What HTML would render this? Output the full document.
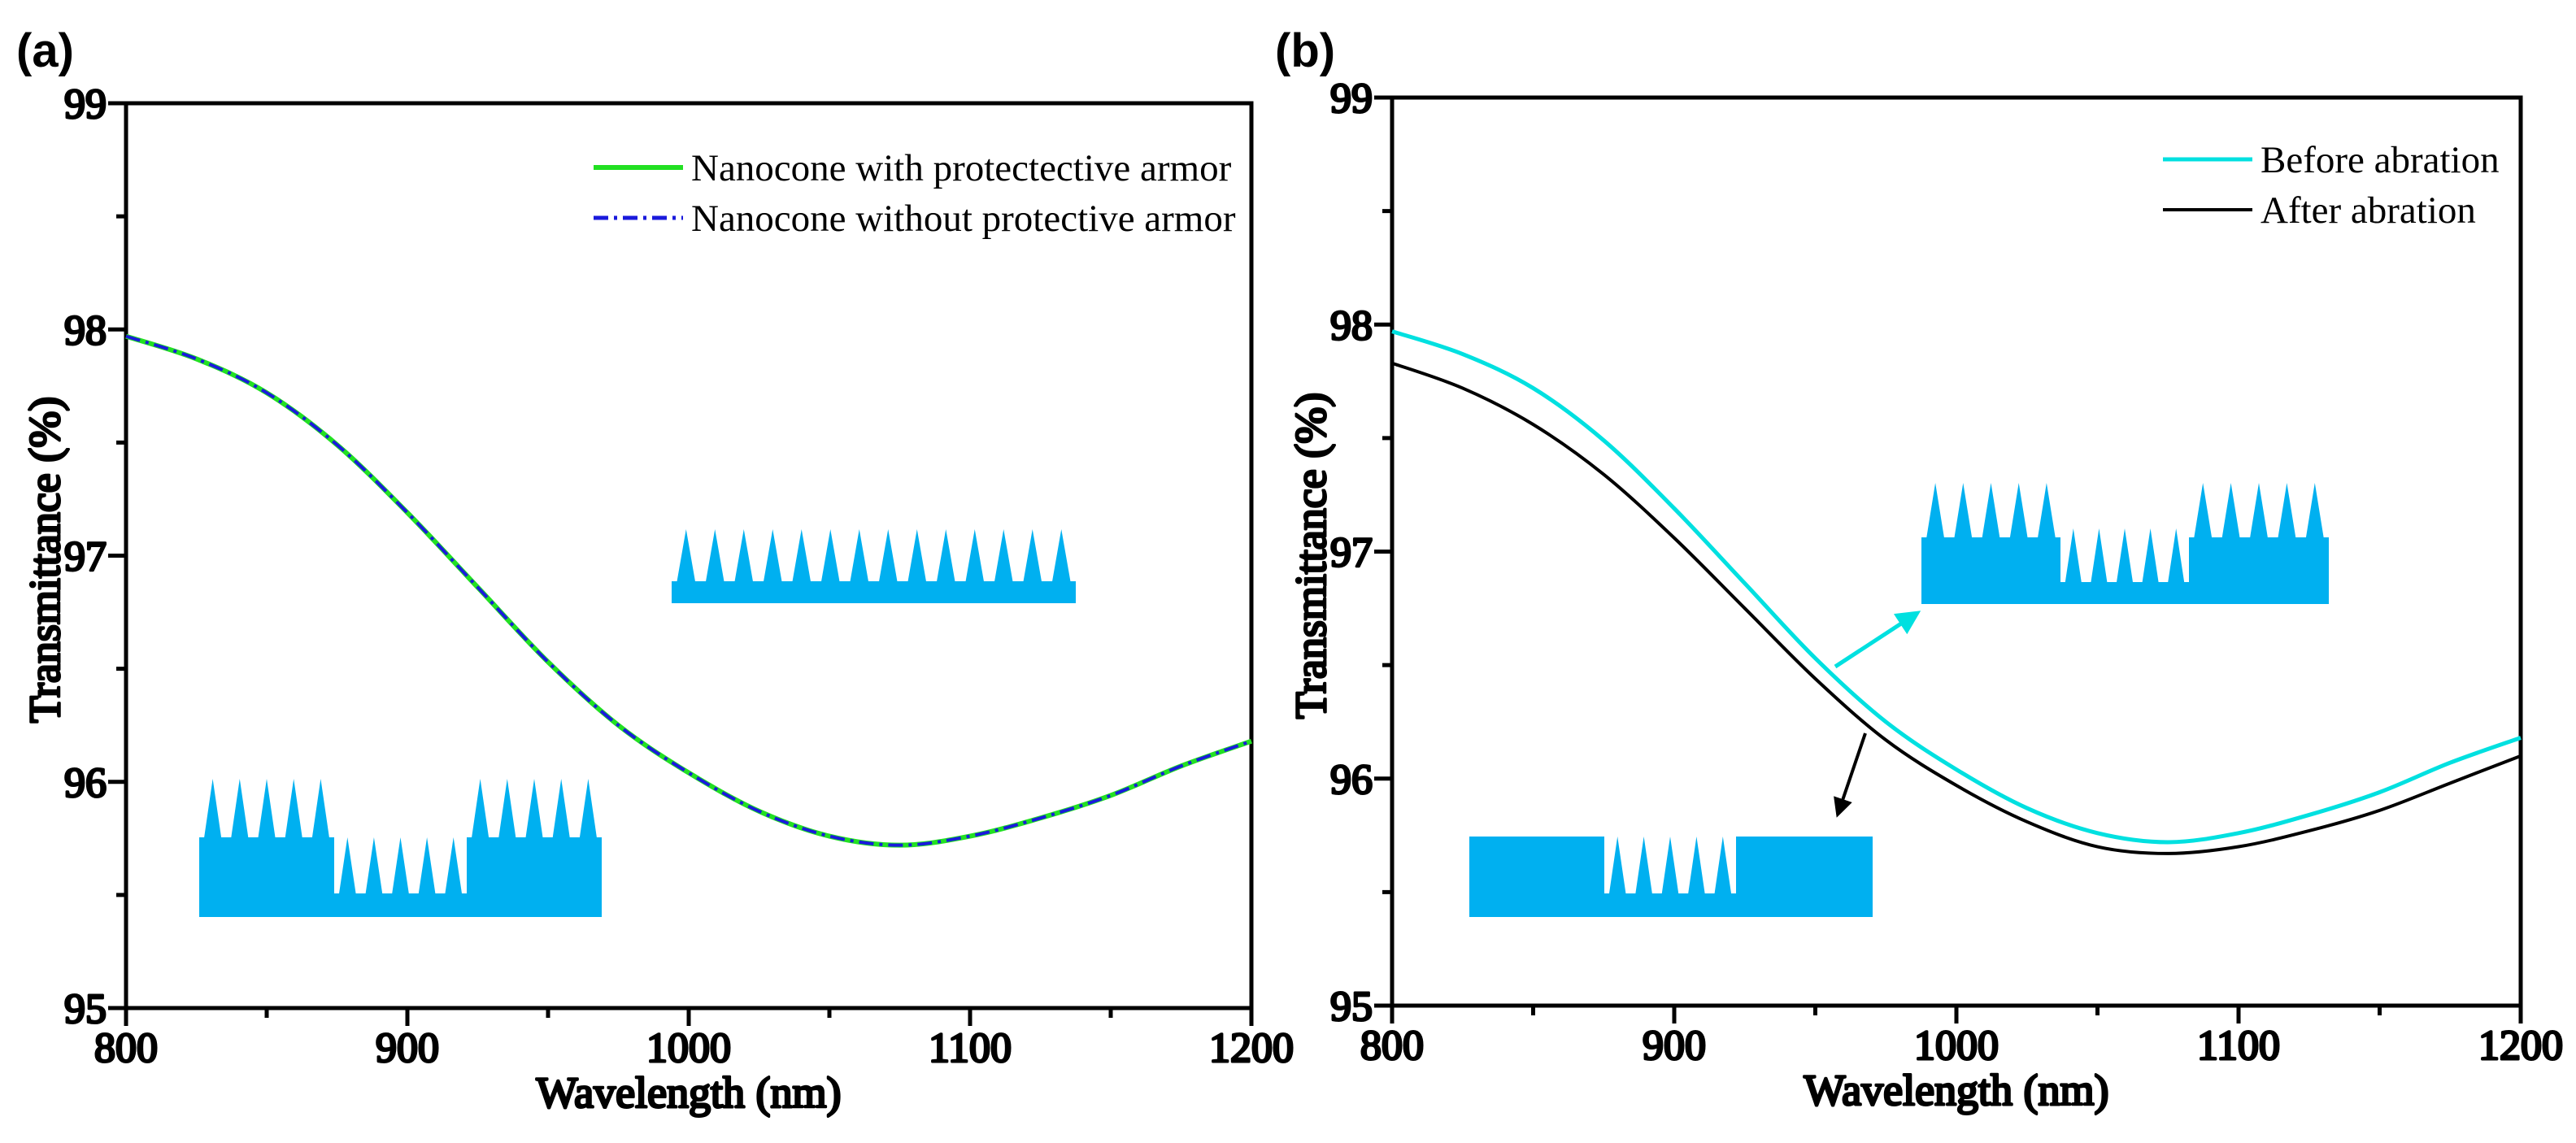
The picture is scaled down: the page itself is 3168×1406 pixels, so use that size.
<!DOCTYPE html>
<html><head><meta charset="utf-8"><style>
html,body{margin:0;padding:0;background:#fff;}
svg{display:block;}
.tick{font-family:"Liberation Serif",serif;font-weight:normal;font-size:52px;}
.ttl{font-family:"Liberation Serif",serif;font-weight:normal;font-size:54px;}
.leg{font-family:"Liberation Serif",serif;font-size:47px;}
.pl{font-family:"Liberation Sans",sans-serif;font-weight:bold;font-size:58px;}
</style></head><body>
<svg id="fig" width="3168" height="1406" viewBox="0 0 3168 1406" xmlns="http://www.w3.org/2000/svg">
<text class="pl" x="20" y="82">(a)</text>
<text class="pl" x="1568" y="82">(b)</text>
<g id="pa"></g>
<g id="pb"></g>
</svg>
<script>
const wavelengths=[800,825,850,875,900,925,950,975,1000,1025,1050,1075,1100,1125,1150,1175,1200];
const withArmor=[97.97,97.87,97.72,97.49,97.19,96.86,96.53,96.25,96.04,95.87,95.76,95.72,95.76,95.84,95.94,96.07,96.18];
const withoutArmor=[97.97,97.87,97.72,97.49,97.19,96.86,96.53,96.25,96.04,95.87,95.76,95.72,95.76,95.84,95.94,96.07,96.18];
const beforeAbr=[97.97,97.87,97.72,97.49,97.19,96.86,96.53,96.25,96.04,95.87,95.76,95.72,95.76,95.84,95.94,96.07,96.18];
const afterAbr=[97.83,97.72,97.56,97.34,97.06,96.75,96.44,96.17,95.97,95.81,95.70,95.67,95.70,95.77,95.86,95.98,96.10];
const xTicks=[800,900,1000,1100,1200];
const yTicks=[95,96,97,98,99];
const NS="http://www.w3.org/2000/svg";
function mk(parent,tag,attrs,txt){const e=document.createElementNS(NS,tag);for(const k in attrs)e.setAttribute(k,attrs[k]);if(txt!==undefined)e.textContent=txt;parent.appendChild(e);return e;}
function smooth(pts){let d=`M${pts[0][0]},${pts[0][1]}`;for(let i=0;i<pts.length-1;i++){const p0=pts[Math.max(0,i-1)],p1=pts[i],p2=pts[i+1],p3=pts[Math.min(pts.length-1,i+2)];const c1=[p1[0]+(p2[0]-p0[0])/6,p1[1]+(p2[1]-p0[1])/6],c2=[p2[0]-(p3[0]-p1[0])/6,p2[1]-(p3[1]-p1[1])/6];d+=`C${c1[0]},${c1[1]} ${c2[0]},${c2[1]} ${p2[0]},${p2[1]}`;}return d;}
const B0={fill:'#000',stroke:'#000','stroke-width':3,'stroke-linejoin':'round'};
function axes(g,L,R,T,B){
  const sx=v=>L+(v-800)/400*(R-L), sy=v=>B-(v-95)/4*(B-T);
  const fr=mk(g,'rect',{x:L,y:T,width:R-L,height:B-T,fill:'none',stroke:'#000','stroke-width':5});
  
  for(let v=800;v<=1200;v+=50){const maj=v%100===0;mk(g,'line',{x1:sx(v),x2:sx(v),y1:B,y2:B+(maj?22:12),stroke:'#000','stroke-width':5});}
  for(let v=95;v<=99;v+=0.5){const maj=v%1===0;mk(g,'line',{x1:L,x2:L-(maj?22:12),y1:sy(v),y2:sy(v),stroke:'#000','stroke-width':5});}
  xTicks.forEach(v=>{const t=mk(g,'text',Object.assign({class:'tick',x:sx(v),y:B+66,'text-anchor':'middle'},B0),v);});
  yTicks.forEach(v=>{const t=mk(g,'text',Object.assign({class:'tick',x:L-24,y:sy(v)+18,'text-anchor':'end'},B0),v);});
  const xt=mk(g,'text',Object.assign({class:'ttl',x:(L+R)/2,y:B+122,'text-anchor':'middle'},B0),'Wavelength (nm)');
  
  const cy=(T+B)/2+5, yx=L-82;
  const yt=mk(g,'text',Object.assign({class:'ttl',x:yx,y:cy,'text-anchor':'middle',transform:`rotate(-90 ${yx} ${cy})`},B0),'Transmittance (%)');
  
  return {sx,sy};
}
function series(g,s,vals,attrs,name){const pts=wavelengths.map((w,i)=>[s.sx(w),s.sy(vals[i])]);const p=mk(g,'path',Object.assign({d:smooth(pts),fill:'none'},attrs));}
const C='#00B0F0';
function spikes(g,x0,x1,n,base,tip){const w=(x1-x0)/n;for(let i=0;i<n;i++){const cx=x0+w*(i+0.5);mk(g,'polygon',{points:`${cx-w*0.32},${base} ${cx},${tip} ${cx+w*0.32},${base}`,fill:C});}}
// Panel A
const ga=document.getElementById('pa');
const sa=axes(ga,155,1539,127,1240);
series(ga,sa,withArmor,{stroke:'#22e022','stroke-width':6},'series-with-armor');
series(ga,sa,withoutArmor,{stroke:'#1a1adc','stroke-width':4,'stroke-dasharray':'18 7 4 7'},'series-without-armor');
let l;
l=mk(ga,'line',{x1:730,x2:840,y1:206,y2:206,stroke:'#22e022','stroke-width':6});
l=mk(ga,'line',{x1:730,x2:840,y1:268,y2:268,stroke:'#1a1adc','stroke-width':5,'stroke-dasharray':'18 7 4 7'});
l=mk(ga,'text',{class:'leg',x:850,y:222},'Nanocone with protectective armor');
l=mk(ga,'text',{class:'leg',x:850,y:284},'Nanocone without protective armor');
let ins=mk(ga,'g',{});
mk(ins,'rect',{x:826,y:715,width:497,height:27,fill:C});spikes(ins,826,1323,14,716,651);
ins=mk(ga,'g',{});
mk(ins,'rect',{x:245,y:1030,width:166,height:98,fill:C});mk(ins,'rect',{x:574,y:1030,width:166,height:98,fill:C});mk(ins,'rect',{x:411,y:1099,width:163,height:29,fill:C});
spikes(ins,245,411,5,1031,958);spikes(ins,574,740,5,1031,958);spikes(ins,411,574,5,1100,1030);
// Panel B
const gb=document.getElementById('pb');
const sb=axes(gb,1712,3100,120,1237);
series(gb,sb,beforeAbr,{stroke:'#00e0e0','stroke-width':5},'series-before-abrasion');
series(gb,sb,afterAbr,{stroke:'#000','stroke-width':4},'series-after-abrasion');
l=mk(gb,'line',{x1:2660,x2:2770,y1:196,y2:196,stroke:'#00e0e0','stroke-width':5});
l=mk(gb,'line',{x1:2660,x2:2770,y1:258,y2:258,stroke:'#000','stroke-width':4});
l=mk(gb,'text',{class:'leg',x:2780,y:212},'Before abration');
l=mk(gb,'text',{class:'leg',x:2780,y:274},'After abration');
ins=mk(gb,'g',{});
mk(ins,'rect',{x:2363,y:661,width:171,height:82,fill:C});mk(ins,'rect',{x:2692,y:661,width:172,height:82,fill:C});mk(ins,'rect',{x:2534,y:716,width:158,height:27,fill:C});
spikes(ins,2363,2534,5,662,594);spikes(ins,2692,2864,5,662,594);spikes(ins,2534,2692,5,717,650);
ins=mk(gb,'g',{});
mk(ins,'rect',{x:1807,y:1029,width:166,height:99,fill:C});mk(ins,'rect',{x:2135,y:1029,width:168,height:99,fill:C});mk(ins,'rect',{x:1973,y:1099,width:162,height:29,fill:C});
spikes(ins,1973,2135,5,1100,1029);
const defs=mk(document.getElementById('fig'),'defs',{});
let m=mk(defs,'marker',{id:'ac',markerWidth:6,markerHeight:6,refX:5,refY:3,orient:'auto',markerUnits:'strokeWidth'});mk(m,'path',{d:'M0,0L6,3L0,6z',fill:'#00e0e0'});
m=mk(defs,'marker',{id:'ak',markerWidth:6,markerHeight:6,refX:5,refY:3,orient:'auto',markerUnits:'strokeWidth'});mk(m,'path',{d:'M0,0L6,3L0,6z',fill:'#000'});
l=mk(gb,'line',{x1:2257,y1:820,x2:2358,y2:754,stroke:'#00e0e0','stroke-width':5,'marker-end':'url(#ac)'});
l=mk(gb,'line',{x1:2294,y1:902,x2:2260,y2:1002,stroke:'#000','stroke-width':4,'marker-end':'url(#ak)'});
</script>
</body></html>
